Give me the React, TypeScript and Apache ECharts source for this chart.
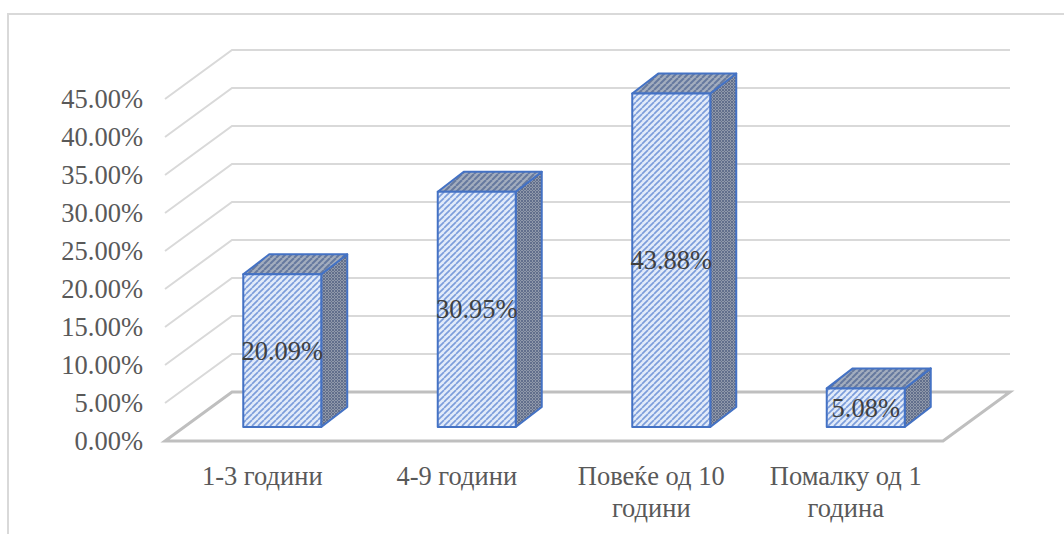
import React, { useEffect, useRef } from "react";
import * as echarts from "echarts";

const categories = ["1-3 години", "4-9 години", "Повеќе од 10\nгодини", "Помалку од 1\nгодина"];
const shares = [20.09, 30.95, 43.88, 5.08];
const wallTicks = [5, 10, 15, 20, 25, 30, 35, 40, 45];

const FONT = '"Liberation Serif", "Times New Roman", serif';
const FLOOR_DEPTH = [67, -49];
const BAR_SHIFT = [20, -14];
const BAR_DEPTH = [26, -20];
const BAR_WIDTH = 78;

// Repeating hatch tile: a base colour crossed by diagonal strokes.
function hatch(size: number, base: string, stroke: string, width: number, cross = false) {
  const c = document.createElement("canvas");
  c.width = size;
  c.height = size;
  const g = c.getContext("2d")!;
  g.fillStyle = base;
  g.fillRect(0, 0, size, size);
  g.strokeStyle = stroke;
  g.lineWidth = width;
  for (let k = -size; k <= size; k += size) {
    g.beginPath();
    g.moveTo(k, size);
    g.lineTo(k + size, 0);
    g.stroke();
    if (cross) {
      g.beginPath();
      g.moveTo(k, 0);
      g.lineTo(k + size, size);
      g.stroke();
    }
  }
  return { image: c, repeat: "repeat" };
}

export default function App() {
  const ref = useRef<HTMLDivElement>(null);

  useEffect(() => {
    const chart = echarts.init(ref.current!, undefined, { renderer: "svg" });
    const frontFill = hatch(6, "#e2ebf9", "#7c9ddb", 1.7);
    const topFill = hatch(6, "#a3adbe", "#66799f", 2);
    const sideFill = hatch(3, "#9099aa", "#626f8c", 1, true);
    const edge = { stroke: "#4472c4", lineWidth: 2, lineJoin: "round" };

    chart.setOption({
      animation: false,
      backgroundColor: "#ffffff",
      grid: { left: 165, right: 121, top: 99, bottom: 93 },
      xAxis: {
        type: "category",
        data: categories,
        axisLine: { show: false },
        axisTick: { show: false },
        axisLabel: {
          fontFamily: FONT,
          fontSize: 26.5,
          color: "#595959",
          lineHeight: 32,
          margin: 19,
          interval: 0,
        },
      },
      yAxis: {
        type: "value",
        min: 0,
        max: 45,
        interval: 5,
        axisLine: { show: false },
        axisTick: { show: false },
        splitLine: { show: false },
        axisLabel: {
          fontFamily: FONT,
          fontSize: 26.5,
          color: "#595959",
          margin: 22,
          formatter: (v: number) => v.toFixed(2) + "%",
        },
      },
      series: [
        {
          // Back wall and left wall rules, one per tick above the floor.
          type: "custom",
          silent: true,
          clip: false,
          z: 1,
          data: wallTicks.map((t) => [0, t]),
          encode: { x: 0, y: 1 },
          renderItem: (params: any, api: any) => {
            const sys = params.coordSys;
            const y = api.coord([0, api.value(1)])[1];
            const right = sys.x + sys.width + FLOOR_DEPTH[0];
            return {
              type: "polyline",
              shape: {
                points: [
                  [sys.x, y],
                  [sys.x + FLOOR_DEPTH[0], y + FLOOR_DEPTH[1]],
                  [right, y + FLOOR_DEPTH[1]],
                ],
              },
              style: { fill: "none", stroke: "#d9d9d9", lineWidth: 2 },
            };
          },
        },
        {
          // Floor parallelogram at the zero level.
          type: "custom",
          silent: true,
          clip: false,
          z: 2,
          data: [[0, 0]],
          encode: { x: 0, y: 1 },
          renderItem: (params: any, api: any) => {
            const sys = params.coordSys;
            const y = api.coord([0, 0])[1];
            const x0 = sys.x;
            const x1 = sys.x + sys.width;
            const [dx, dy] = FLOOR_DEPTH;
            return {
              type: "polygon",
              shape: { points: [[x0, y], [x1, y], [x1 + dx, y + dy], [x0 + dx, y + dy]] },
              style: { fill: "none", stroke: "#bfbfbf", lineWidth: 3 },
            };
          },
        },
        {
          // Hatched 3D columns with their value text on the front face.
          type: "custom",
          silent: true,
          clip: false,
          z: 3,
          data: shares.map((s, i) => [i, s]),
          encode: { x: 0, y: 1 },
          renderItem: (_: any, api: any) => {
            const value = api.value(1);
            const [cx, topY] = api.coord([api.value(0), value]);
            const baseY = api.coord([0, 0])[1];
            const l = cx + BAR_SHIFT[0] - BAR_WIDTH / 2;
            const r = l + BAR_WIDTH;
            const t = topY + BAR_SHIFT[1];
            const b = baseY + BAR_SHIFT[1];
            const [dx, dy] = BAR_DEPTH;
            return {
              type: "group",
              children: [
                {
                  type: "polygon",
                  shape: { points: [[r, t], [r + dx, t + dy], [r + dx, b + dy], [r, b]] },
                  style: { fill: sideFill, ...edge },
                },
                {
                  type: "polygon",
                  shape: { points: [[l, t], [l + dx, t + dy], [r + dx, t + dy], [r, t]] },
                  style: { fill: topFill, ...edge },
                },
                {
                  type: "rect",
                  shape: { x: l, y: t, width: BAR_WIDTH, height: b - t },
                  style: { fill: frontFill, ...edge },
                },
                {
                  type: "text",
                  x: (l + r) / 2,
                  y: (t + b) / 2,
                  style: {
                    text: value.toFixed(2) + "%",
                    fontFamily: FONT,
                    fontSize: 26.5,
                    fill: "#404040",
                    align: "center",
                    verticalAlign: "middle",
                  },
                },
              ],
            };
          },
        },
      ],
      graphic: [
        {
          type: "polyline",
          silent: true,
          shape: { points: [[8, 534], [8, 14], [1064, 14]] },
          style: { fill: "none", stroke: "#d9d9d9", lineWidth: 2 },
        },
      ],
    });
    return () => chart.dispose();
  }, []);

  return <div ref={ref} style={{ position: "fixed", left: 0, top: 0, width: 1064, height: 534 }} />;
}
